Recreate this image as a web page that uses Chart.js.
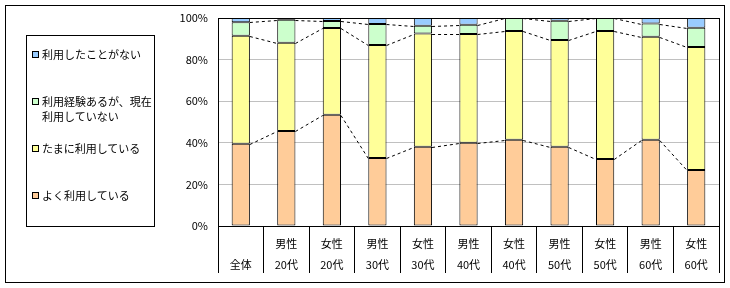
<!DOCTYPE html>
<html>
<head>
<meta charset="utf-8">
<script src="https://cdn.jsdelivr.net/npm/chart.js@4"></script>
<style>
  body { margin: 0; background: #fff; font-family: "Noto Sans CJK JP", sans-serif; }
  #wrap { position: relative; width: 730px; height: 288px; }
  #frame { position: absolute; left: 5px; top: 5px; width: 720px; height: 278px; border: 1px solid #000; box-sizing: border-box; }
  #legend { position: absolute; left: 26px; top: 35px; width: 129px; height: 192px; border: 1px solid #000; box-sizing: border-box; font-size: 11px; color: #000; }
  .item { position: absolute; left: 5px; white-space: nowrap; line-height: 15px; }
  .sw { position: absolute; left: 0; top: 4px; width: 7px; height: 7px; border: 1px solid #000; box-sizing: border-box; }
  .txt { position: absolute; left: 10px; top: 0; }
  canvas { position: absolute; left: 0; top: 0; }
</style>
</head>
<body>
<div id="wrap">
  <div id="frame"></div>
  <canvas id="c" width="730" height="288"></canvas>
  <div id="legend"></div>
</div>
<script>
const categories = [
  ['', '全体'], ['男性', '20代'], ['女性', '20代'], ['男性', '30代'], ['女性', '30代'],
  ['男性', '40代'], ['女性', '40代'], ['男性', '50代'], ['女性', '50代'], ['男性', '60代'], ['女性', '60代']
];
const seriesNames = ['よく利用している', 'たまに利用している', '利用経験あるが、現在利用していない', '利用したことがない'];
const often    = [39.5, 45.7, 53.5, 32.7, 38.1, 40.0, 41.5, 38.1, 32.2, 41.5, 26.9];
const sometimes = [52.0, 42.4, 41.7, 54.3, 54.4, 52.3, 52.3, 51.3, 61.5, 49.5, 59.2];
const stopped  = [6.5, 11.1, 3.4, 10.1, 3.8, 4.5, 6.2, 9.3, 6.3, 6.3, 9.2];
const never    = [2.0, 0.8, 1.4, 2.9, 3.7, 3.2, 0.0, 1.3, 0.0, 2.7, 4.7];
const colors = ['#FFCC99', '#FFFF99', '#CCFFCC', '#99CCFF'];
const yTicks = [0, 20, 40, 60, 80, 100];

// legend (top to bottom = reverse order)
const legend = document.getElementById('legend');
const legendRows = [
  { i: 3, top: 11, lines: ['利用したことがない'] },
  { i: 2, top: 58, lines: ['利用経験あるが、現在', '利用していない'] },
  { i: 1, top: 105, lines: ['たまに利用している'] },
  { i: 0, top: 152, lines: ['よく利用している'] }
];
legendRows.forEach(r => {
  const d = document.createElement('div');
  d.className = 'item';
  d.style.top = r.top + 'px';
  d.innerHTML = '<span class="sw" style="background:' + colors[r.i] + '"></span><span class="txt">' + r.lines.join('<br>') + '</span>';
  legend.appendChild(d);
});

const seriesLines = {
  id: 'seriesLines',
  afterDatasetsDraw(chart) {
    const ctx = chart.ctx;
    const y = chart.scales.y;
    const n = categories.length;
    ctx.save();
    ctx.strokeStyle = '#000';
    ctx.lineWidth = 1;
    ctx.setLineDash([3, 3]);
    chart.data.datasets.forEach((ds, d) => {
      for (let i = 0; i < n - 1; i++) {
        let a = 0, b = 0;
        for (let k = 0; k <= d; k++) { a += chart.data.datasets[k].data[i]; b += chart.data.datasets[k].data[i + 1]; }
        const m = chart.getDatasetMeta(d);
        const e1 = m.data[i], e2 = m.data[i + 1];
        ctx.beginPath();
        ctx.moveTo(e1.x + e1.width / 2, Math.round(y.getPixelForValue(Math.min(a, 100))) + 0.5);
        ctx.lineTo(e2.x - e2.width / 2, Math.round(y.getPixelForValue(Math.min(b, 100))) + 0.5);
        ctx.stroke();
      }
    });
    ctx.setLineDash([]);
    const ca = chart.chartArea;
    ctx.strokeRect(Math.round(ca.left) + 0.5, Math.round(ca.top) + 0.5, Math.round(ca.right - ca.left), Math.round(ca.bottom - ca.top));
    ctx.restore();
  }
};

const dataArrays = [often, sometimes, stopped, never];
new Chart(document.getElementById('c'), {
  type: 'bar',
  data: {
    labels: categories,
    datasets: dataArrays.map((arr, i) => ({
      label: seriesNames[i],
      data: arr,
      backgroundColor: colors[i],
      borderColor: '#000',
      borderWidth: 1,
      borderSkipped: false,
      barPercentage: 0.4,
      categoryPercentage: 1
    }))
  },
  options: {
    responsive: false,
    animation: false,
    layout: { padding: { left: 160, right: 11, top: 18, bottom: 15 } },
    plugins: { legend: { display: false }, tooltip: { enabled: false } },
    scales: {
      x: {
        stacked: true,
        afterFit: s => { s.height = 47; },
        grid: { offset: true, drawOnChartArea: false, color: '#000', tickLength: 47, tickWidth: 1 },
        border: { color: '#000' },
        ticks: { color: '#000', padding: -40, font: { family: '"Noto Sans CJK JP", sans-serif', size: 11, lineHeight: '21px' }, maxRotation: 0, autoSkip: false }
      },
      y: {
        stacked: true,
        min: 0, max: 100,
        afterFit: s => { s.width = 58; },
        afterBuildTicks: s => { s.ticks = yTicks.map(v => ({ value: v })); },
        grid: { color: '#C0C0C0', drawTicks: false },
        border: { color: '#000' },
        ticks: { color: '#000', padding: 10, font: { family: '"Noto Sans CJK JP", sans-serif', size: 11 }, callback: v => v + '%' }
      }
    }
  },
  plugins: [seriesLines]
});
</script>
</body>
</html>
